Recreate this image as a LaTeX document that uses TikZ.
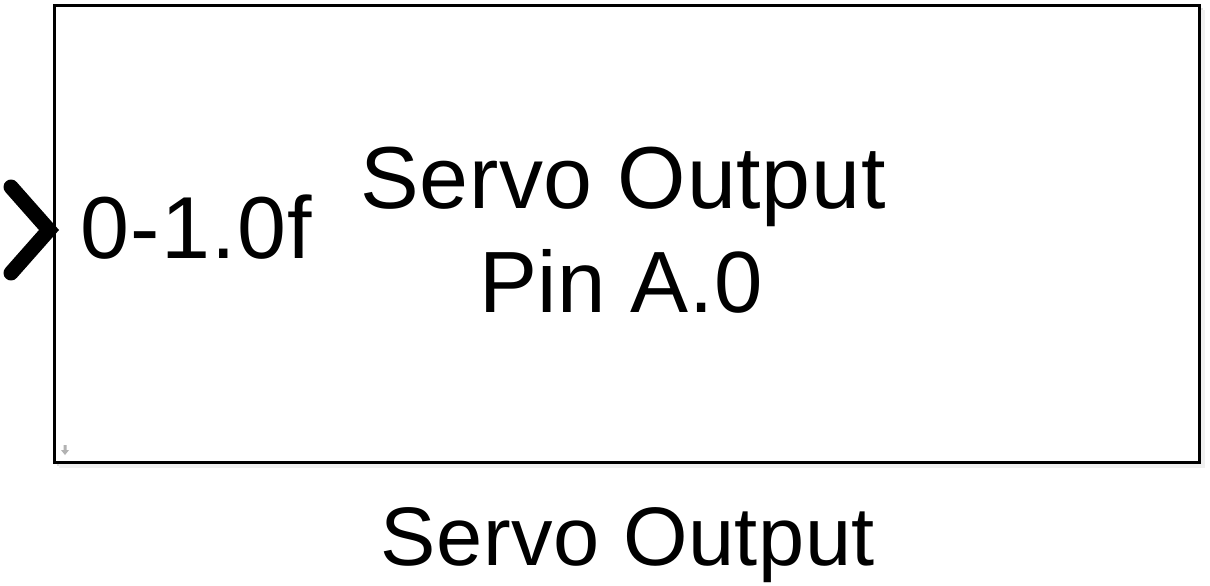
\documentclass[tikz,border=0pt]{standalone}
\usepackage{fontspec}
\setmainfont{Liberation Sans}
\begin{document}
\begin{tikzpicture}[x=1pt,y=-1pt,
  blk/.style={draw=black,line width=3pt,fill=white},
  big/.style={font=\fontsize{88}{104}\selectfont\addfontfeature{LetterSpace=0.8},inner sep=0pt,anchor=base},
]
\useasboundingbox (0,0) rectangle (1210,586);
% shadow
\fill[black!12] (57,8) rectangle (1203,466);
\fill[black!6] (59,10) rectangle (1205,468);
\node[blk,minimum width=1145pt,minimum height=457pt,inner sep=0pt,anchor=north west] (box) at (53,4) {};
% port chevron
\coordinate (p1) at (11,187);
\coordinate (p2) at (49,230);
\coordinate (p3) at (11,273);
\draw[line width=15pt,line cap=round,line join=miter] (p1) -- (p2) -- (p3);
\node[big,anchor=base west,font=\fontsize{88}{104}\selectfont\addfontfeature{LetterSpace=1.6}] (port) at (80,258) {0-1.0f};
\node[big] (t1) at (623,208) {Servo Output};
\node[big,font=\fontsize{87}{104}\selectfont\addfontfeature{LetterSpace=0.6}] (t2) at (621,312) {Pin A.0};
\node[big,font=\fontsize{83}{100}\selectfont\addfontfeature{LetterSpace=0.6}] (lbl) at (628,565) {Servo Output};
% small arrow
\fill[black!30] (63.5,445) -- (66.5,445) -- (66.5,450) -- (69,450) -- (65,455) -- (61,450) -- (63.5,450) -- cycle;
\end{tikzpicture}
\end{document}
